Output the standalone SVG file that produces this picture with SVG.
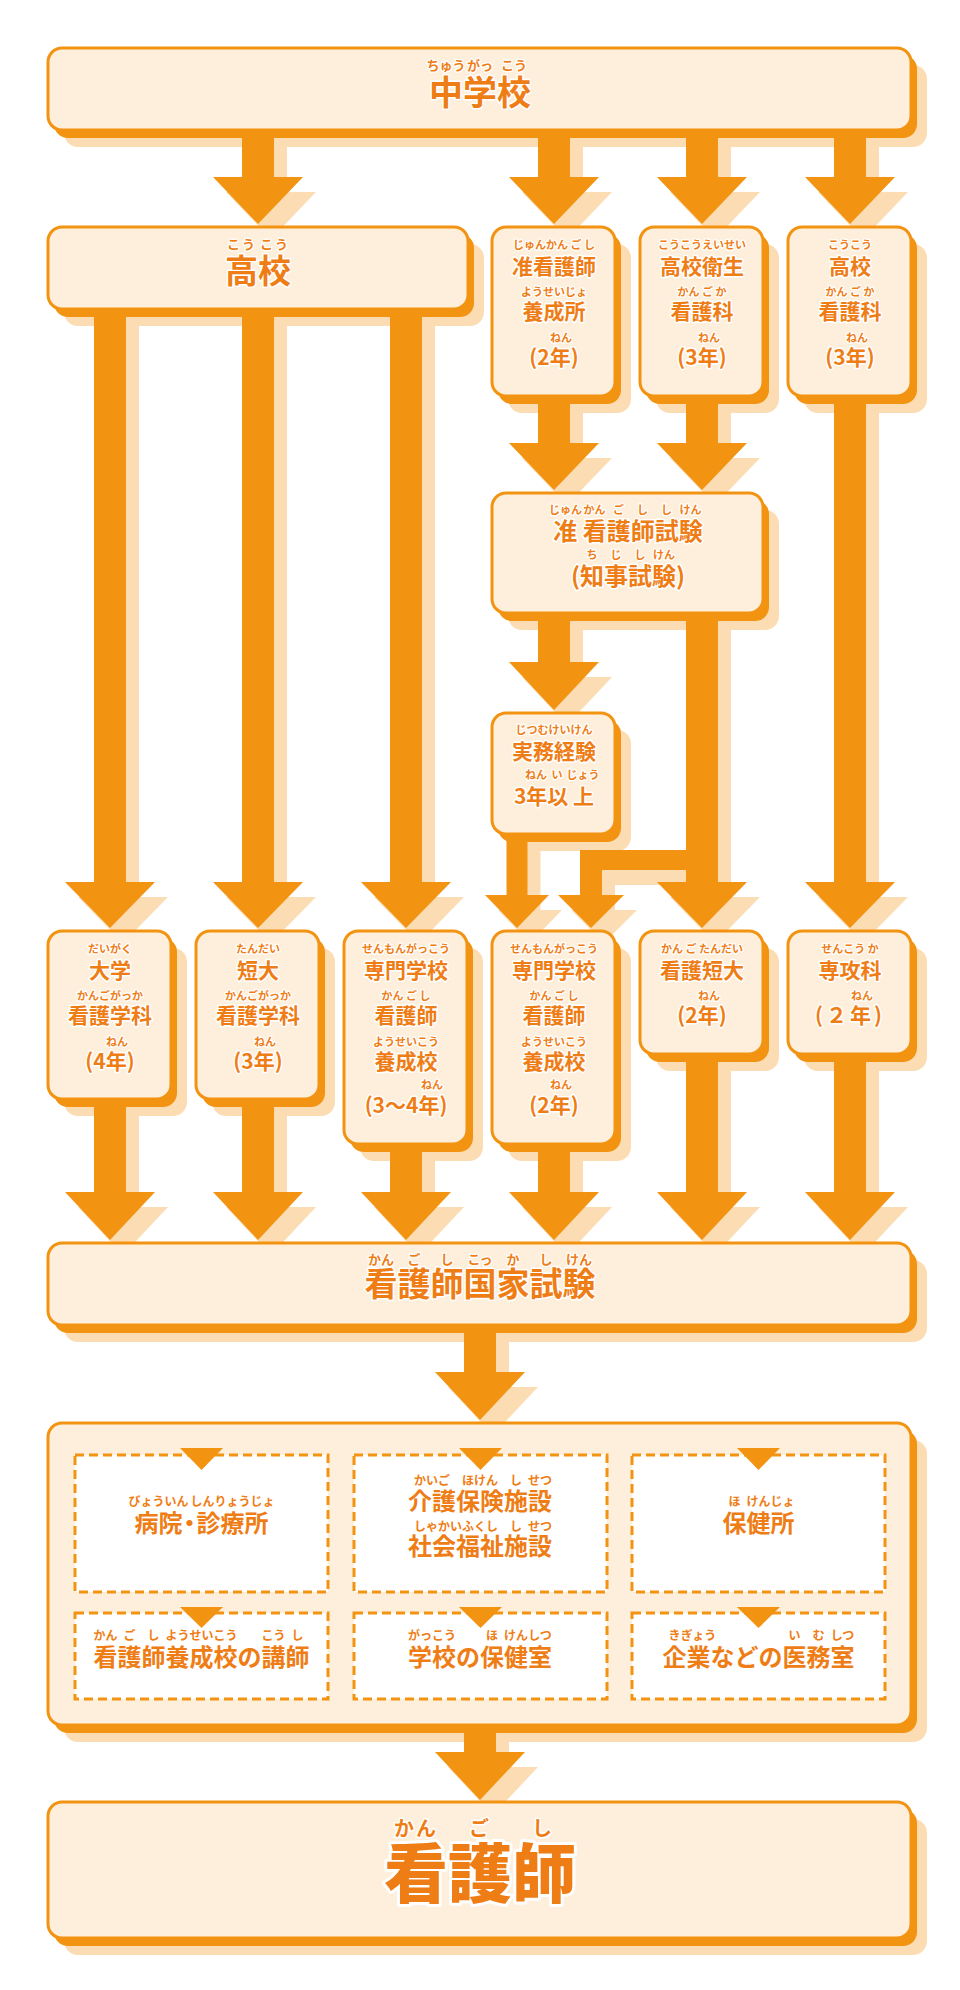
<svg xmlns="http://www.w3.org/2000/svg" xmlns:xlink="http://www.w3.org/1999/xlink" width="960" height="1990" viewBox="0 0 960 1990">
<style>
.box{fill:#FDEFDB;stroke:#F39312;stroke-width:3}
.osh{fill:#F39312}
.lsh{fill:#FCDDB3}
.arr{fill:#F39312}
.d{fill:#FFFFFF;stroke:#F39312;stroke-width:3;stroke-dasharray:9 5}
.tri{fill:#F39312}
.t{font-family:"Noto Sans CJK JP","Noto Sans CJK SC",sans-serif;font-weight:700;fill:#EF7D16;stroke:#FFFFFF;stroke-width:3;paint-order:stroke;stroke-linejoin:round;text-anchor:middle}
.m{font-size:21px}
.r{font-size:11px;stroke-width:2.5}
.r12{font-size:12px;stroke-width:2.5}
.r13{font-size:13px;stroke-width:2.5}
.m24{font-size:24px}
.m33{font-size:33px}
.m34{font-size:34px}
</style>
<defs>
<polygon id="a1" points="242,130 274,130 274,177 303,177 258,224 213,177 242,177"/>
<polygon id="a2" points="538,130 570,130 570,177 599,177 554,224 509,177 538,177"/>
<polygon id="a3" points="686,130 718,130 718,177 747,177 702,224 657,177 686,177"/>
<polygon id="a4" points="834,130 866,130 866,177 895,177 850,224 805,177 834,177"/>
<polygon id="a5" points="538,390 570,390 570,443 599,443 554,490 509,443 538,443"/>
<polygon id="a6" points="686,390 718,390 718,443 747,443 702,490 657,443 686,443"/>
<polygon id="a7" points="538,608 570,608 570,662 599,662 554,710 509,662 538,662"/>
<polygon id="a8" points="94,305 126,305 126,882 155,882 110,928 65,882 94,882"/>
<polygon id="a9" points="242,305 274,305 274,882 303,882 258,928 213,882 242,882"/>
<polygon id="a10" points="390,305 422,305 422,882 451,882 406,928 361,882 390,882"/>
<polygon id="a11" points="834,390 866,390 866,882 895,882 850,928 805,882 834,882"/>
<polygon id="a12" points="686,608 718,608 718,882 747,882 702,928 657,882 686,882"/>
<polygon id="a13" points="700,850 580,850 580,895 558,895 591,928 624,895 602,895 602,870 700,870"/>
<polygon id="a14" points="506.5,828 527.5,828 527.5,895 549,895 517,928 485,895 506.5,895"/>
<polygon id="a15" points="94,1092 126,1092 126,1192 155,1192 110,1240 65,1192 94,1192"/>
<polygon id="a16" points="242,1092 274,1092 274,1192 303,1192 258,1240 213,1192 242,1192"/>
<polygon id="a17" points="390,1138 422,1138 422,1192 451,1192 406,1240 361,1192 390,1192"/>
<polygon id="a18" points="538,1138 570,1138 570,1192 599,1192 554,1240 509,1192 538,1192"/>
<polygon id="a19" points="686,1048 718,1048 718,1192 747,1192 702,1240 657,1192 686,1192"/>
<polygon id="a20" points="834,1048 866,1048 866,1192 895,1192 850,1240 805,1192 834,1192"/>
<polygon id="a21" points="464,1320 496,1320 496,1372 525,1372 480,1420 435,1372 464,1372"/>
<polygon id="a22" points="464,1720 496,1720 496,1752 525,1752 480,1800 435,1752 464,1752"/>
</defs>

<g id="node-shadows" class="lsh">
<rect x="64" y="65" width="863" height="82" rx="14"/>
<rect x="64" y="244" width="420" height="82" rx="14"/>
<rect x="508" y="244" width="123" height="169" rx="14"/>
<rect x="656" y="244" width="123" height="169" rx="14"/>
<rect x="804" y="244" width="123" height="169" rx="14"/>
<rect x="508" y="510" width="271" height="120" rx="14"/>
<rect x="508" y="730" width="123" height="121" rx="14"/>
<rect x="64" y="948" width="123" height="168" rx="14"/>
<rect x="212" y="948" width="123" height="168" rx="14"/>
<rect x="360" y="948" width="123" height="213" rx="14"/>
<rect x="508" y="948" width="123" height="213" rx="14"/>
<rect x="656" y="948" width="123" height="123" rx="14"/>
<rect x="804" y="948" width="123" height="123" rx="14"/>
<rect x="64" y="1260" width="863" height="82" rx="14"/>
<rect x="64" y="1440" width="863" height="302" rx="14"/>
<rect x="64" y="1819" width="863" height="136" rx="14"/>
</g>

<g id="connectors">
<g class="lsh" transform="translate(13,15)">
<use href="#a1"/><use href="#a2"/><use href="#a3"/><use href="#a4"/><use href="#a5"/><use href="#a6"/><use href="#a7"/><use href="#a8"/><use href="#a9"/><use href="#a10"/><use href="#a11"/><use href="#a12"/><use href="#a13"/><use href="#a14"/><use href="#a15"/><use href="#a16"/><use href="#a17"/><use href="#a18"/><use href="#a19"/><use href="#a20"/><use href="#a21"/><use href="#a22"/>
</g>
<g class="arr">
<use href="#a1"/><use href="#a2"/><use href="#a3"/><use href="#a4"/><use href="#a5"/><use href="#a6"/><use href="#a7"/><use href="#a8"/><use href="#a9"/><use href="#a10"/><use href="#a11"/><use href="#a12"/><use href="#a13"/><use href="#a14"/><use href="#a15"/><use href="#a16"/><use href="#a17"/><use href="#a18"/><use href="#a19"/><use href="#a20"/><use href="#a21"/><use href="#a22"/>
</g>
</g>

<g id="n-chugakko">
<rect class="osh" x="54" y="55" width="863" height="83" rx="14"/>
<rect class="box" x="48" y="48" width="863" height="82" rx="14"/>
<text class="t r13" y="70"><tspan x="446">ちゅう</tspan><tspan x="480">がっ</tspan><tspan x="514">こう</tspan></text>
<text class="t m34" x="480" y="105">中学校</text>
</g>

<g id="n-koko">
<rect class="osh" x="54" y="234" width="420" height="83" rx="14"/>
<rect class="box" x="48" y="227" width="420" height="82" rx="14"/>
<text class="t r13" y="249" letter-spacing="2"><tspan x="242">こう</tspan><tspan x="275">こう</tspan></text>
<text class="t m33" x="258" y="283">高校</text>
</g>

<g id="n-junkango-yoseijo">
<rect class="osh" x="498" y="234" width="123" height="170" rx="14"/>
<rect class="box" x="492" y="227" width="123" height="169" rx="14"/>
<text class="t r" x="554" y="249">じゅんかん ご し</text>
<text class="t m" x="554" y="274">准看護師</text>
<text class="t r" x="554" y="296">ようせいじょ</text>
<text class="t m" x="554" y="319">養成所</text>
<text class="t r" x="561" y="342">ねん</text>
<text class="t m" x="554" y="365">(2年)</text>
</g>

<g id="n-koko-eisei">
<rect class="osh" x="646" y="234" width="123" height="170" rx="14"/>
<rect class="box" x="640" y="227" width="123" height="169" rx="14"/>
<text class="t r" x="702" y="249">こうこうえいせい</text>
<text class="t m" x="702" y="274">高校衛生</text>
<text class="t r" x="702" y="296">かん ご か</text>
<text class="t m" x="702" y="319">看護科</text>
<text class="t r" x="709" y="342">ねん</text>
<text class="t m" x="702" y="365">(3年)</text>
</g>

<g id="n-koko-kangoka">
<rect class="osh" x="794" y="234" width="123" height="170" rx="14"/>
<rect class="box" x="788" y="227" width="123" height="169" rx="14"/>
<text class="t r" x="850" y="249">こうこう</text>
<text class="t m" x="850" y="274">高校</text>
<text class="t r" x="850" y="296">かん ご か</text>
<text class="t m" x="850" y="319">看護科</text>
<text class="t r" x="857" y="342">ねん</text>
<text class="t m" x="850" y="365">(3年)</text>
</g>

<g id="n-junkango-shiken">
<rect class="osh" x="498" y="500" width="271" height="121" rx="14"/>
<rect class="box" x="492" y="493" width="271" height="120" rx="14"/>
<text class="t r" y="514"><tspan x="565.5">じゅん</tspan><tspan x="594.5">かん</tspan><tspan x="618.5">ご</tspan><tspan x="642.5">し</tspan><tspan x="666.5">し</tspan><tspan x="690.5">けん</tspan></text>
<text class="t m24" x="628" y="540">准 看護師試験</text>
<text class="t r" y="559"><tspan x="592">ち</tspan><tspan x="616">じ</tspan><tspan x="640">し</tspan><tspan x="664">けん</tspan></text>
<text class="t m24" x="628" y="585">(知事試験)</text>
</g>

<g id="n-jitsumu">
<rect class="osh" x="498" y="720" width="123" height="122" rx="14"/>
<rect class="box" x="492" y="713" width="123" height="121" rx="14"/>
<text class="t r" x="554" y="734">じつむけいけん</text>
<text class="t m" x="554" y="759">実務経験</text>
<text class="t r" y="779"><tspan x="536">ねん</tspan><tspan x="557">い</tspan><tspan x="583">じょう</tspan></text>
<text class="t m" x="554" y="804">3年以 上</text>
</g>

<g id="n-daigaku">
<rect class="osh" x="54" y="938" width="123" height="169" rx="14"/>
<rect class="box" x="48" y="931" width="123" height="168" rx="14"/>
<text class="t r" x="110" y="953">だいがく</text>
<text class="t m" x="110" y="978">大学</text>
<text class="t r" x="110" y="1000">かんごがっか</text>
<text class="t m" x="110" y="1023">看護学科</text>
<text class="t r" x="117" y="1046">ねん</text>
<text class="t m" x="110" y="1069">(4年)</text>
</g>

<g id="n-tandai">
<rect class="osh" x="202" y="938" width="123" height="169" rx="14"/>
<rect class="box" x="196" y="931" width="123" height="168" rx="14"/>
<text class="t r" x="258" y="953">たんだい</text>
<text class="t m" x="258" y="978">短大</text>
<text class="t r" x="258" y="1000">かんごがっか</text>
<text class="t m" x="258" y="1023">看護学科</text>
<text class="t r" x="265" y="1046">ねん</text>
<text class="t m" x="258" y="1069">(3年)</text>
</g>

<g id="n-senmon-34">
<rect class="osh" x="350" y="938" width="123" height="214" rx="14"/>
<rect class="box" x="344" y="931" width="123" height="213" rx="14"/>
<text class="t r" x="406" y="953">せんもんがっこう</text>
<text class="t m" x="406" y="978">専門学校</text>
<text class="t r" x="406" y="1000">かん ご し</text>
<text class="t m" x="406" y="1023">看護師</text>
<text class="t r" x="406" y="1046">ようせいこう</text>
<text class="t m" x="406" y="1069">養成校</text>
<text class="t r" x="432" y="1089">ねん</text>
<text class="t m" x="406" y="1113">(3～4年)</text>
</g>

<g id="n-senmon-2">
<rect class="osh" x="498" y="938" width="123" height="214" rx="14"/>
<rect class="box" x="492" y="931" width="123" height="213" rx="14"/>
<text class="t r" x="554" y="953">せんもんがっこう</text>
<text class="t m" x="554" y="978">専門学校</text>
<text class="t r" x="554" y="1000">かん ご し</text>
<text class="t m" x="554" y="1023">看護師</text>
<text class="t r" x="554" y="1046">ようせいこう</text>
<text class="t m" x="554" y="1069">養成校</text>
<text class="t r" x="561" y="1089">ねん</text>
<text class="t m" x="554" y="1113">(2年)</text>
</g>

<g id="n-kango-tandai">
<rect class="osh" x="646" y="938" width="123" height="124" rx="14"/>
<rect class="box" x="640" y="931" width="123" height="123" rx="14"/>
<text class="t r" x="702" y="953">かん ご たんだい</text>
<text class="t m" x="702" y="978">看護短大</text>
<text class="t r" x="709" y="1000">ねん</text>
<text class="t m" x="702" y="1023">(2年)</text>
</g>

<g id="n-senkoka">
<rect class="osh" x="794" y="938" width="123" height="124" rx="14"/>
<rect class="box" x="788" y="931" width="123" height="123" rx="14"/>
<text class="t r" x="850" y="953">せんこう か</text>
<text class="t m" x="850" y="978">専攻科</text>
<text class="t r" x="862" y="1000">ねん</text>
<text class="t m" x="850" y="1023" letter-spacing="3">(２年)</text>
</g>

<g id="n-kokka-shiken">
<rect class="osh" x="54" y="1250" width="863" height="83" rx="14"/>
<rect class="box" x="48" y="1243" width="863" height="82" rx="14"/>
<text class="t r13" y="1264"><tspan x="381">かん</tspan><tspan x="414">ご</tspan><tspan x="447">し</tspan><tspan x="480">こっ</tspan><tspan x="513">か</tspan><tspan x="546">し</tspan><tspan x="579">けん</tspan></text>
<text class="t m33" x="480" y="1296">看護師国家試験</text>
</g>

<g id="n-shokuba">
<rect class="osh" x="54" y="1430" width="863" height="303" rx="14"/>
<rect class="box" x="48" y="1423" width="863" height="302" rx="14"/>
<rect class="d" x="75" y="1455" width="253" height="137"/>
<rect class="d" x="354" y="1455" width="253" height="137"/>
<rect class="d" x="632" y="1455" width="253" height="137"/>
<rect class="d" x="75" y="1613" width="253" height="86"/>
<rect class="d" x="354" y="1613" width="253" height="86"/>
<rect class="d" x="632" y="1613" width="253" height="86"/>
<polygon class="tri" points="180,1448 223,1448 201.5,1470"/>
<polygon class="tri" points="459,1448 502,1448 480.5,1470"/>
<polygon class="tri" points="737,1448 780,1448 758.5,1470"/>
<polygon class="tri" points="180,1607 223,1607 201.5,1628"/>
<polygon class="tri" points="459,1607 502,1607 480.5,1628"/>
<polygon class="tri" points="737,1607 780,1607 758.5,1628"/>
<text class="t r12" y="1506"><tspan x="158.5">びょういん</tspan><tspan x="232.5">しんりょうじょ</tspan></text>
<text class="t m24" x="201.5" y="1532">病院<tspan dx="-5">・</tspan><tspan dx="-5">診療所</tspan></text>
<text class="t r12" y="1485"><tspan x="432">かいご</tspan><tspan x="480">ほけん</tspan><tspan x="516">し</tspan><tspan x="540">せつ</tspan></text>
<text class="t m24" x="480" y="1510">介護保険施設</text>
<text class="t r12" y="1531"><tspan x="456">しゃかいふくし</tspan><tspan x="516">し</tspan><tspan x="540">せつ</tspan></text>
<text class="t m24" x="480" y="1555">社会福祉施設</text>
<text class="t r12" y="1506"><tspan x="734.5">ほ</tspan><tspan x="770.5">けんじょ</tspan></text>
<text class="t m24" x="758.5" y="1532">保健所</text>
<text class="t r12" y="1640"><tspan x="105.5">かん</tspan><tspan x="129.5">ご</tspan><tspan x="153.5">し</tspan><tspan x="201.5">ようせいこう</tspan><tspan x="273.5">こう</tspan><tspan x="297.5">し</tspan></text>
<text class="t m24" x="201.5" y="1666">看護師養成校の講師</text>
<text class="t r12" y="1640"><tspan x="432">がっこう</tspan><tspan x="492">ほ</tspan><tspan x="516">けん</tspan><tspan x="540">しつ</tspan></text>
<text class="t m24" x="480" y="1666">学校の保健室</text>
<text class="t r12" y="1640"><tspan x="674.5">き</tspan><tspan x="698.5">ぎょう</tspan><tspan x="794.5">い</tspan><tspan x="818.5">む</tspan><tspan x="842.5">しつ</tspan></text>
<text class="t m24" x="758.5" y="1666">企業などの医務室</text>
</g>

<g id="n-kangoshi">
<rect class="osh" x="54" y="1809" width="863" height="137" rx="14"/>
<rect class="box" x="48" y="1802" width="863" height="136" rx="14"/>
<text class="t" y="1836" style="font-size:20px;stroke-width:3"><tspan x="404">か</tspan><tspan x="426">ん</tspan><tspan x="479">ご</tspan><tspan x="542">し</tspan></text>
<text class="t" x="480" y="1897" style="font-size:64px;font-weight:900;stroke-width:6">看護師</text>
</g>
</svg>
